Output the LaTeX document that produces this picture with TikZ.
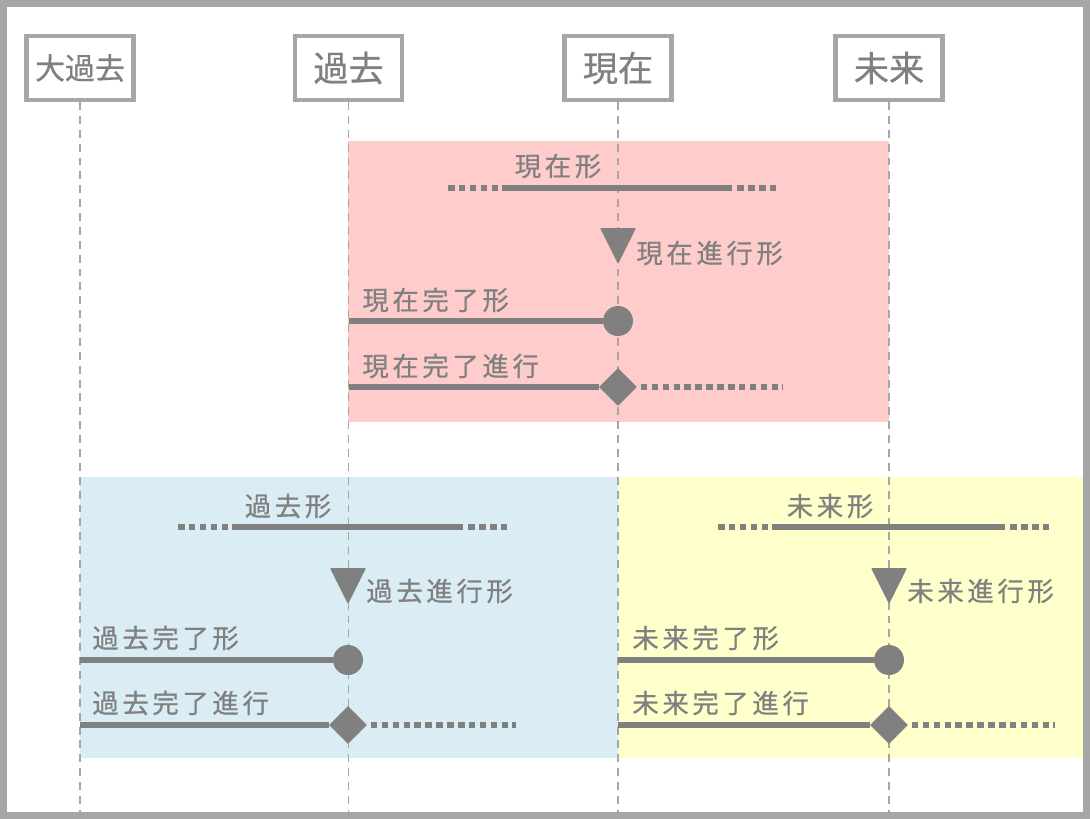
\documentclass[tikz,border=0pt]{standalone}
\usepackage{fontspec}
\newfontfamily\jpfont[FakeBold=0.6]{Noto Sans CJK JP}
\newfontfamily\jpwide[LetterSpace=14,FakeBold=0.6]{Noto Sans CJK JP}
\usetikzlibrary{shapes.geometric}
\definecolor{txtgray}{HTML}{808080}
\definecolor{linegray}{HTML}{A6A6A6}
\definecolor{pinkbg}{HTML}{FFCCCC}
\definecolor{bluebg}{HTML}{DAEDF4}
\definecolor{yellowbg}{HTML}{FFFFCC}
\tikzset{
    header/.style={draw=linegray, line width=2.3pt, fill=white, minimum width=2.14cm, minimum height=1.28cm, inner sep=0pt, text=txtgray, font=\jpfont\fontsize{20}{20}\selectfont},
    tlabel/.style={inner sep=0pt, text=txtgray, font=\jpwide\fontsize{15}{15}\selectfont},
    timeaxis/.style={linegray, line width=1.1pt, dash pattern=on 4.5pt off 3.4pt},
    span/.style={txtgray, line width=3.4pt},
    cont/.style={txtgray, line width=3.4pt, dash pattern=on 3.7pt off 2.5pt},
    done/.style={circle, fill=txtgray, minimum size=0.6cm, inner sep=0pt},
    still/.style={diamond, fill=txtgray, minimum size=0.76cm, inner sep=0pt},
    arrowmark/.style={fill=txtgray, rounded corners=0.6pt}
}
\begin{document}
\begin{tikzpicture}[x=0.02cm, y=-0.02cm]
    \useasboundingbox (0,0) rectangle (1090,819);

    % backgrounds
    \fill[pinkbg] (348,141) rectangle (889,422);
    \fill[bluebg] (80,477) rectangle (618,758);
    \fill[yellowbg] (618,477) rectangle (1087,758);

    % time axes
    \node[header, font=\jpfont\fontsize{17}{17}\selectfont] (daikako) at (80,68) {大過去};
    \node[header] (kako) at (348.5,68) {過去};
    \node[header] (genzai) at (618,68) {現在};
    \node[header] (mirai) at (889,68) {未来};
    \coordinate (bottom) at (0,814);
    \draw[timeaxis] (daikako.south) -- (daikako |- bottom);
    \draw[timeaxis] (kako.south) -- (kako |- bottom);
    \draw[timeaxis] (genzai.south) -- (genzai |- bottom);
    \draw[timeaxis] (mirai.south) -- (mirai |- bottom);

    % present
    \node[tlabel] (ps-label) at (558,166) {現在形};
    \coordinate (ps-a) at (448,188); \coordinate (ps-b) at (504,188);
    \coordinate (ps-c) at (732,188); \coordinate (ps-d) at (778,188);
    \draw[cont] (ps-a) -- (ps-b);
    \draw[span] (ps-b) -- (ps-c);
    \draw[cont] ([xshift=3]ps-c) -- (ps-d);
    \coordinate (pp-tip) at (618,264);
    \fill[arrowmark] ([shift={(-18,-36)}]pp-tip) -- ([shift={(18,-36)}]pp-tip) -- (pp-tip) -- cycle;
    \node[tlabel, anchor=west] (pp-label) at (636,253) {現在進行形};
    \node[tlabel, anchor=west] (pf-label) at (362,300) {現在完了形};
    \node[done] (pf) at (618,321) {};
    \draw[span] (kako |- pf) -- (pf);
    \node[tlabel, anchor=west] (pfc-label) at (362,366) {現在完了進行};
    \node[still] (pfc) at (618,387) {};
    \coordinate (pfc-end) at (783,387);
    \draw[span] (kako |- pfc) -- (pfc.west);
    \draw[cont] ([xshift=2]pfc.east) -- (pfc-end);

    % past
    \node[tlabel] (ks-label) at (288,506) {過去形};
    \coordinate (ks-a) at (178,527); \coordinate (ks-b) at (235,527);
    \coordinate (ks-c) at (463,527); \coordinate (ks-d) at (510,527);
    \draw[cont] (ks-a) -- (ks-b);
    \draw[span] (ks-b) -- (ks-c);
    \draw[cont] ([xshift=3]ks-c) -- (ks-d);
    \coordinate (kp-tip) at (348,604);
    \fill[arrowmark] ([shift={(-18,-36)}]kp-tip) -- ([shift={(18,-36)}]kp-tip) -- (kp-tip) -- cycle;
    \node[tlabel, anchor=west] (kp-label) at (366,591) {過去進行形};
    \node[tlabel, anchor=west] (kf-label) at (92,638) {過去完了形};
    \node[done] (kf) at (348,660) {};
    \draw[span] (daikako |- kf) -- (kf);
    \node[tlabel, anchor=west] (kfc-label) at (92,703) {過去完了進行};
    \node[still] (kfc) at (348,725) {};
    \coordinate (kfc-end) at (516,725);
    \draw[span] (daikako |- kfc) -- (kfc.west);
    \draw[cont] ([xshift=2]kfc.east) -- (kfc-end);

    % future
    \node[tlabel] (ms-label) at (830,506) {未来形};
    \coordinate (ms-a) at (718,527); \coordinate (ms-b) at (775,527);
    \coordinate (ms-c) at (1005,527); \coordinate (ms-d) at (1050,527);
    \draw[cont] (ms-a) -- (ms-b);
    \draw[span] (ms-b) -- (ms-c);
    \draw[cont] ([xshift=3]ms-c) -- (ms-d);
    \coordinate (mp-tip) at (889,604);
    \fill[arrowmark] ([shift={(-18,-36)}]mp-tip) -- ([shift={(18,-36)}]mp-tip) -- (mp-tip) -- cycle;
    \node[tlabel, anchor=west] (mp-label) at (907,591) {未来進行形};
    \node[tlabel, anchor=west] (mf-label) at (632,638) {未来完了形};
    \node[done] (mf) at (889,660) {};
    \draw[span] (genzai |- mf) -- (mf);
    \node[tlabel, anchor=west] (mfc-label) at (632,703) {未来完了進行};
    \node[still] (mfc) at (889,725) {};
    \coordinate (mfc-end) at (1055,725);
    \draw[span] (genzai |- mfc) -- (mfc.west);
    \draw[cont] ([xshift=2]mfc.east) -- (mfc-end);

    % frame
    \draw[linegray, line width=0.14cm] (3.5,3.5) rectangle (1086.5,815.5);
\end{tikzpicture}
\end{document}
